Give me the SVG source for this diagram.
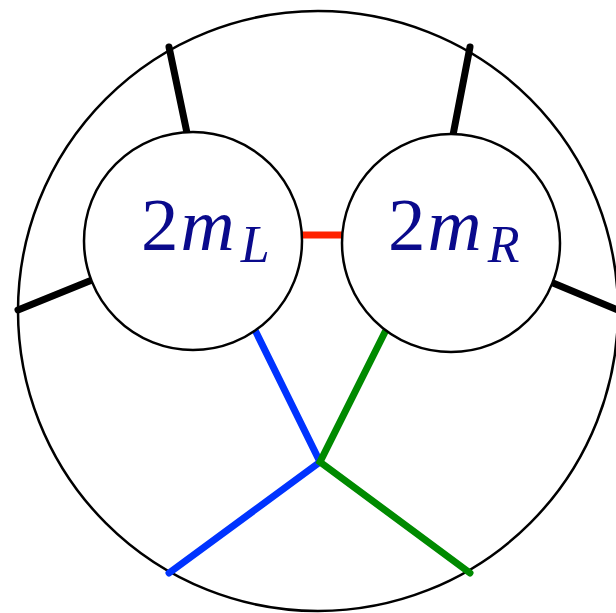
<svg xmlns="http://www.w3.org/2000/svg" width="616" height="613" viewBox="0 0 616 613">
<style>
.ring{fill:none;stroke:#000;stroke-width:2.5}
.node{fill:#fff;stroke:#000;stroke-width:2.5}
.leg{stroke:#000;stroke-width:7;stroke-linecap:round;fill:none}
.blue{stroke:#0033ff;stroke-width:7;stroke-linecap:round;fill:none}
.green{stroke:#008a00;stroke-width:7;stroke-linecap:round;fill:none}
.red{stroke:#ff2200;stroke-width:7;fill:none}
.lbl{font-family:"Liberation Serif",serif;fill:#0a0a8c;font-size:75px}
.it{font-style:italic}
</style>
<rect width="616" height="613" fill="#fff"/>
<circle class="ring" cx="318" cy="311" r="300"/>
<g id="connectors">
<line class="leg" x1="169" y1="47" x2="187" y2="133"/>
<line class="leg" x1="470" y1="47" x2="453" y2="135"/>
<line class="leg" x1="18" y1="310" x2="92" y2="280"/>
<line class="leg" x1="553" y1="283" x2="625" y2="313"/>
<line class="red" x1="301" y1="235" x2="343" y2="235"/>
<polyline class="blue" points="255,330 320,462 169,573"/>
<polyline class="green" points="385,332 320,462 470,573"/>
</g>
<g id="nodeL">
<circle class="node" cx="193" cy="241" r="109"/>
<text class="lbl" x="141" y="250">2<tspan class="it" dx="2">m</tspan><tspan class="it" font-size="52" dx="6" dy="12">L</tspan></text>
</g>
<g id="nodeR">
<circle class="node" cx="451" cy="243" r="109"/>
<text class="lbl" x="388" y="250">2<tspan class="it" dx="2">m</tspan><tspan class="it" font-size="52" dx="6" dy="12">R</tspan></text>
</g>
</svg>
